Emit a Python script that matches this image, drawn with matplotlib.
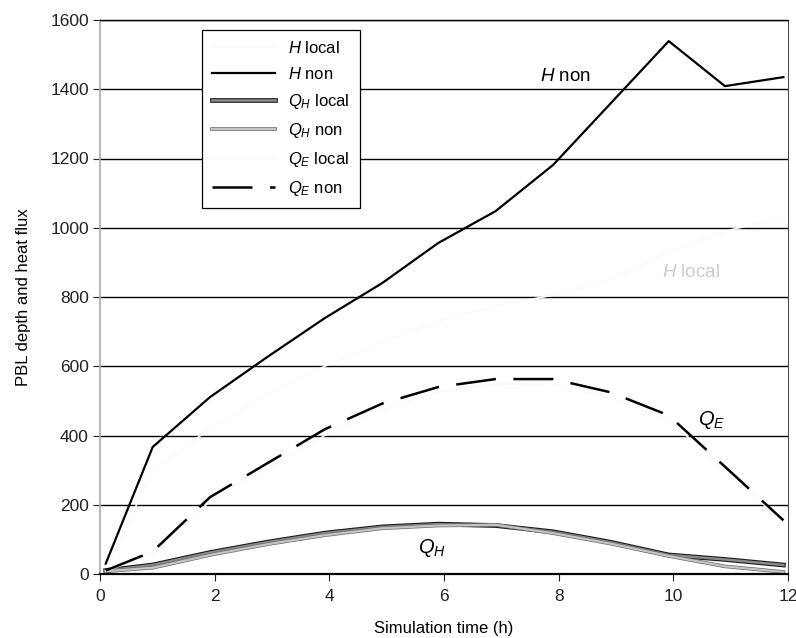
import matplotlib.pyplot as plt
import matplotlib.patheffects as pe

plt.rcParams['font.family'] = ['Liberation Sans', 'DejaVu Sans']
plt.rcParams['mathtext.fontset'] = 'custom'
plt.rcParams['mathtext.rm'] = 'Liberation Sans'
plt.rcParams['mathtext.it'] = 'Liberation Sans:italic'

# simulation times (h)
t = [0.1, 0.92, 1.92, 2.92, 3.92, 4.92, 5.9, 6.9, 7.9, 8.9, 9.92, 10.9, 11.92]

# PBL depth and heat flux series
h_local = [10, 300, 420, 520, 600, 670, 730, 775, 805, 850, 930, 990, 1030]
h_non = [30, 367, 511, 627, 739, 840, 956, 1048, 1181, 1358, 1539, 1409, 1435]
qh_local = [10, 26, 62, 92, 118, 136, 144, 140, 122, 92, 55, 42, 26]
qh_non = [8, 18, 55, 86, 112, 132, 140, 142, 118, 88, 52, 22, 6]
qe_local = [8, 60, 210, 305, 400, 475, 525, 548, 550, 510, 445, 300, 150]
qe_non = [10, 65, 222, 320, 418, 492, 540, 563, 563, 525, 458, 310, 155]

yticks = [0, 200, 400, 600, 800, 1000, 1200, 1400, 1600]
xticks = [0, 2, 4, 6, 8, 10, 12]

fig = plt.figure(figsize=(7.96, 6.38), dpi=100)
ax = fig.add_subplot(111)
fig.subplots_adjust(left=100/796, right=788/796, bottom=64/638, top=618/638)

# the "local" runs are printed almost white in the original
ax.plot(t, h_local, color='#fbfbfb', lw=1.2, label=r'$H$ local')
ax.plot(t, h_non, color='black', lw=1.6, label=r'$H$ non')
ax.plot(t, qh_local, color='#8a8a8a', lw=1.8, label=r'$Q_H$ local',
        path_effects=[pe.Stroke(linewidth=3.4, foreground='#1a1a1a'), pe.Normal()])
ax.plot(t, qh_non, color='#c4c4c4', lw=1.6, label=r'$Q_H$ non',
        path_effects=[pe.Stroke(linewidth=2.6, foreground='#6a6a6a'), pe.Normal()])
ax.plot(t, qe_local, color='#fbfbfb', lw=1.2, label=r'$Q_E$ local')
ax.plot(t, qe_non, color='black', lw=1.8, linestyle=(0, (16, 7)), label=r'$Q_E$ non')

ax.set_xlim(0, 12)
ax.set_ylim(0, 1600)
ax.set_xticks(xticks)
ax.set_yticks(yticks)
ax.yaxis.grid(True, color='black', lw=1.0)
ax.set_axisbelow(True)

ax.tick_params(axis='both', labelsize=12.5, length=5, width=0.8, colors='#222222')
ax.tick_params(axis='y', pad=3)
ax.tick_params(axis='x', pad=6)

ax.spines['left'].set_color('#aaaaaa')
ax.spines['left'].set_linewidth(1.2)
ax.spines['right'].set_color('#444444')
ax.spines['right'].set_linewidth(0.7)
ax.spines['top'].set_color('black')
ax.spines['top'].set_linewidth(1.0)
ax.spines['bottom'].set_color('black')
ax.spines['bottom'].set_linewidth(1.6)

ax.set_xlabel('Simulation time (h)', fontsize=12, labelpad=12)
ax.set_ylabel('PBL depth and heat flux', fontsize=12, labelpad=14)

ax.text(8.11, 1438, r'$H$ non', fontsize=13.5, ha='center', va='center')
ax.text(10.3, 872, r'$H$ local', fontsize=13.5, ha='center', va='center', color='#cccccc')
ax.text(10.67, 445, r'$Q_E$', fontsize=14.5, ha='center', va='center')
ax.text(5.79, 75, r'$Q_H$', fontsize=14.5, ha='center', va='center')

leg = ax.legend(loc='upper left', bbox_to_anchor=(0.148, 0.982), borderaxespad=0,
                fancybox=False, framealpha=1, edgecolor='black', fontsize=12,
                handlelength=3.8, handletextpad=0.8, labelspacing=0.6,
                borderpad=0.6)
leg.get_frame().set_linewidth(0.9)

fig.savefig('out.png', dpi=100)
